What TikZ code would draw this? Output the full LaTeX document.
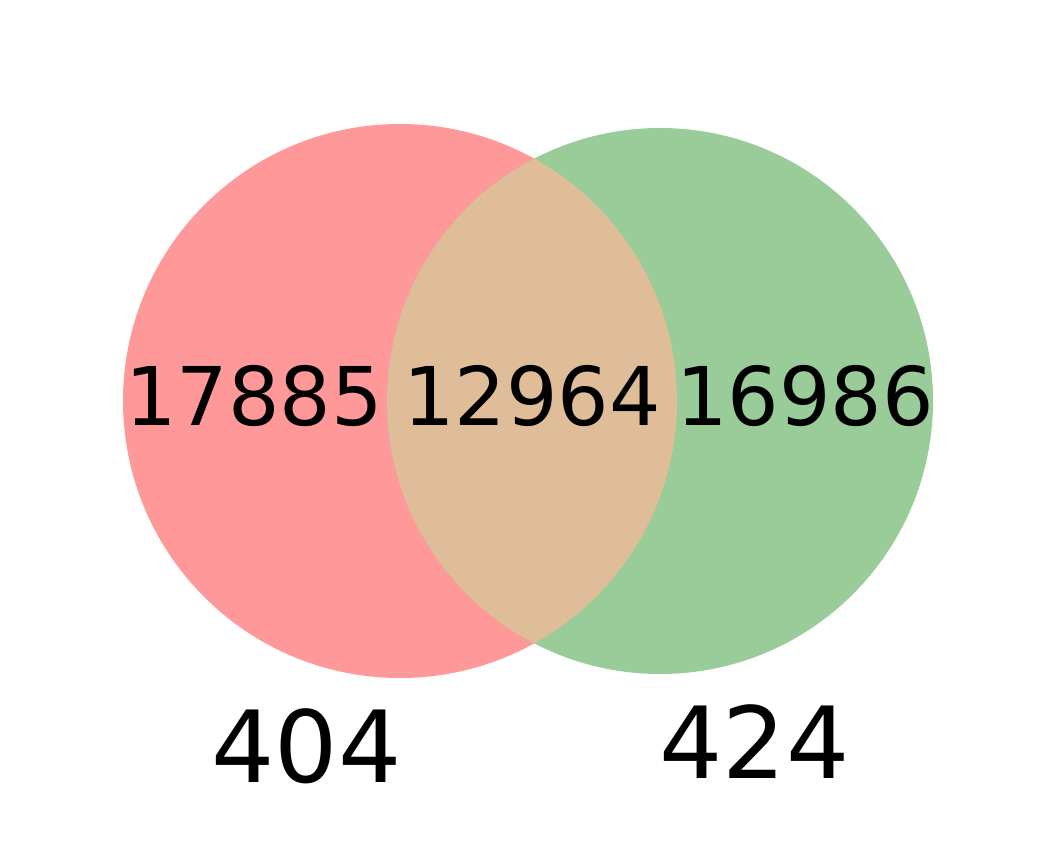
\documentclass[tikz,border=0pt]{standalone}
\usepackage{fontspec}
\setmainfont{DejaVu Sans}
\definecolor{vred}{RGB}{255,153,153}
\definecolor{vgreen}{RGB}{153,204,153}
\definecolor{vmix}{RGB}{224,189,153}
\tikzset{
  region/.style={font=\fontsize{81}{81}\selectfont, inner sep=0pt, anchor=base},
  setlabel/.style={font=\fontsize{99.5}{99.5}\selectfont, inner sep=0pt, anchor=base},
}
\begin{document}
\begin{tikzpicture}[x=1pt,y=-1pt]
\useasboundingbox (0,0) rectangle (1057,863);
\fill[vred] (400,401) circle[radius=277];
\fill[vgreen] (660,401) circle[radius=273];
\begin{scope}
  \clip (400,401) circle[radius=277];
  \fill[vmix] (660,401) circle[radius=273];
\end{scope}
\node[region] (a) at (254,425.5) {17885};
\node[region] (ab) at (532,425.5) {12964};
\node[region] (b) at (805,425.5) {16986};
\node[setlabel] (la) at (306.5,782.5) {404};
\node[setlabel] (lb) at (754.5,778.3) {424};
\end{tikzpicture}
\end{document}
